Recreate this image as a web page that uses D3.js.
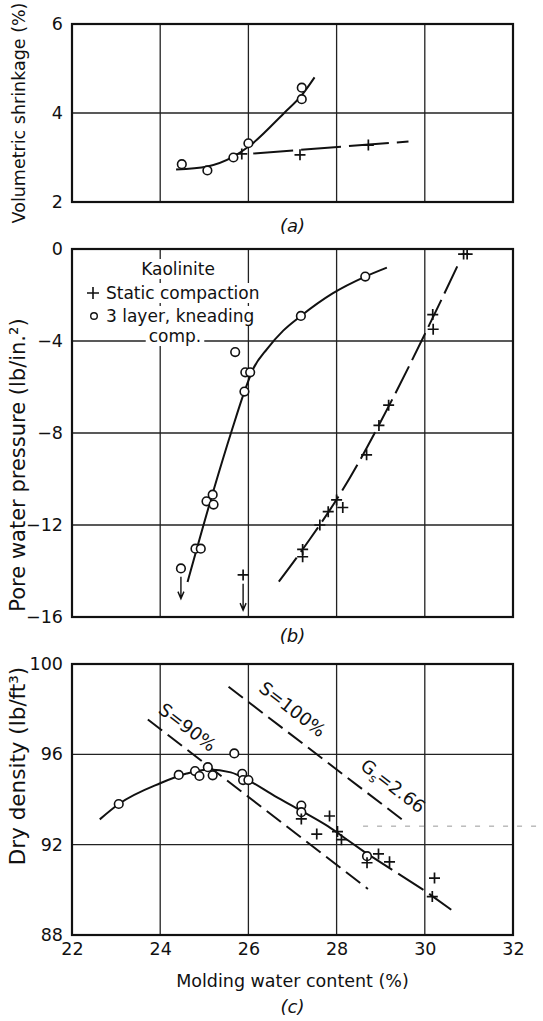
<!DOCTYPE html>
<html><head><meta charset="utf-8">
<script src="https://cdn.jsdelivr.net/npm/d3@7"></script>
<style>
body{margin:0;background:#fff}
svg{display:block}
text{font-family:"DejaVu Sans","Liberation Sans",sans-serif;fill:#111}
</style></head>
<body><svg id="chart" width="543" height="1021"></svg>
<script>
// ---------- data ----------
const xTicks = [22, 24, 26, 28, 30, 32];
const shrinkTicks = [2, 4, 6];
const pwpTicks = [-16, -12, -8, -4, 0];
const densTicks = [88, 92, 96, 100];

// (a) volumetric shrinkage
const aKneadW = [24.49, 25.07, 25.66, 26.0, 27.21, 27.21];
const aKneadV = [2.85, 2.71, 3.0, 3.32, 4.57, 4.31];
const aStaticW = [25.85, 27.17, 28.72];
const aStaticV = [3.08, 3.06, 3.28];
const aKneadCurveW = [24.36, 25.07, 25.66, 26.0, 26.8, 27.21, 27.5];
const aKneadCurveV = [2.73, 2.80, 3.02, 3.24, 3.99, 4.40, 4.80];
const aStaticLineW = [26.11, 29.63];
const aStaticLineV = [3.09, 3.36];

// (b) pore water pressure
const bKneadW = [28.65, 27.19, 25.70, 25.93, 26.04, 25.91, 25.19, 25.05, 25.21, 24.80, 24.92, 24.47];
const bKneadV = [-1.2, -2.91, -4.48, -5.36, -5.36, -6.20, -10.68, -10.97, -11.11, -13.03, -13.03, -13.89];
const bStaticW = [30.88, 30.96, 30.18, 30.19, 29.18, 28.96, 28.68, 28.0, 28.14, 27.81, 27.62, 27.23, 27.23, 25.88];
const bStaticV = [-0.22, -0.22, -2.85, -3.49, -6.79, -7.67, -8.95, -10.91, -11.24, -11.42, -12.0, -13.06, -13.38, -14.17];
const bKneadCurveW = [24.62, 25.21, 25.63, 25.91, 26.1, 26.43, 26.79, 27.19, 27.91, 28.65, 29.14];
const bKneadCurveV = [-14.48, -10.49, -7.85, -6.2, -5.25, -4.33, -3.55, -2.91, -1.93, -1.2, -0.81];
const bStaticLineW = [26.69, 27.4, 28.09, 29.3, 29.98, 30.8];
const bStaticLineV = [-14.46, -12.6, -10.62, -6.4, -3.78, -0.5];
// arrows (below-range readings): start value, end value
const bArrowW = [24.47, 25.88];
const bArrowFrom = [-14.25, -14.55];
const bArrowTo = [-15.2, -15.7];

// (c) dry density
const cKneadW = [23.06, 24.42, 24.79, 24.89, 25.08, 25.19, 25.68, 25.86, 25.88, 26.0, 27.2, 27.2, 28.69];
const cKneadV = [93.80, 95.09, 95.26, 95.04, 95.43, 95.07, 96.04, 95.14, 94.86, 94.86, 93.73, 93.44, 91.49];
const cStaticW = [27.2, 27.84, 27.55, 28.02, 28.11, 28.69, 28.95, 29.2, 30.22, 30.17];
const cStaticV = [93.14, 93.27, 92.47, 92.58, 92.22, 91.2, 91.59, 91.24, 90.52, 89.7];
const cCurveW = [22.63, 23.06, 24.0, 24.6, 25.1, 25.6, 26.0, 26.6, 27.2, 27.8, 28.24, 28.69];
const cCurveV = [93.12, 93.80, 94.72, 95.15, 95.33, 95.2, 94.85, 94.15, 93.5, 92.82, 92.22, 91.6];
const cCurveDashW = [28.69, 30.0, 30.6];
const cCurveDashV = [91.6, 89.96, 89.12];
const s90W = [23.72, 28.71];
const s90V = [97.54, 90.04];
const s100W = [25.55, 29.56];
const s100V = [98.99, 93.0];
// faint scan rule on the right of panel (c)
const scanRuleW = [28.6, 32.68];
const scanRuleV = [92.82, 92.82];

// ---------- layout ----------
const svg = d3.select("#chart");
const X0 = 72, X1 = 513;
const x = d3.scaleLinear().domain([22, 32]).range([X0, X1]);
const yA = d3.scaleLinear().domain([2, 6]).range([202, 24]);
const yB = d3.scaleLinear().domain([-16, 0]).range([617, 249]);
const yC = d3.scaleLinear().domain([88, 100]).range([935, 664]);

const zip = (a, b) => a.map((d, i) => [d, b[i]]);

function panel(y, ticks) {
  const g = svg.append("g");
  const [lo, hi] = y.domain();
  g.selectAll(".vg").data(xTicks.slice(1, -1)).join("line")
    .attr("x1", d => x(d)).attr("x2", d => x(d))
    .attr("y1", y(lo)).attr("y2", y(hi))
    .attr("stroke", "#222").attr("stroke-width", 1.3);
  g.selectAll(".hg").data(ticks.slice(1, -1)).join("line")
    .attr("y1", d => y(d)).attr("y2", d => y(d))
    .attr("x1", X0).attr("x2", X1)
    .attr("stroke", "#222").attr("stroke-width", 1.3);
  const ax = d3.axisLeft(y).tickValues(ticks).tickSize(0).tickPadding(9)
    .tickFormat(d3.format("d"));
  const ag = svg.append("g").attr("transform", `translate(${X0},0)`).call(ax);
  ag.select(".domain").remove();
  ag.selectAll("text").attr("font-size", 17.5).attr("font-family", "DejaVu Sans").attr("fill", "#111");
  return g;
}
function frame(y) {
  const [lo, hi] = y.domain();
  svg.append("rect").attr("x", X0).attr("y", y(hi))
    .attr("width", X1 - X0).attr("height", y(lo) - y(hi))
    .attr("fill", "none").attr("stroke", "#111").attr("stroke-width", 2.2);
}
function curve(y, W, V, dash, curveType, color, sw) {
  svg.append("path").datum(zip(W, V))
    .attr("d", d3.line().x(d => x(d[0])).y(d => y(d[1])).curve(curveType || d3.curveMonotoneX))
    .attr("fill", "none").attr("stroke", color || "#111").attr("stroke-width", sw || 2)
    .attr("stroke-dasharray", dash || null);
}
function circles(y, W, V) {
  svg.append("g").selectAll("circle").data(zip(W, V)).join("circle")
    .attr("cx", d => x(d[0])).attr("cy", d => y(d[1])).attr("r", 4.3)
    .attr("fill", "#fff").attr("stroke", "#111").attr("stroke-width", 1.6);
}
function pluses(y, W, V) {
  svg.append("g").selectAll("path").data(zip(W, V)).join("path")
    .attr("transform", d => `translate(${x(d[0])},${y(d[1])})`)
    .attr("d", "M-5.5,0H5.5M0,-5.5V5.5")
    .attr("stroke", "#111").attr("stroke-width", 1.7).attr("fill", "none");
}
function caption(txt, ypx) {
  svg.append("text").attr("x", (X0 + X1) / 2).attr("y", ypx).attr("text-anchor", "middle")
    .attr("font-family", "Liberation Serif").attr("font-style", "italic").attr("font-size", 18)
    .text(txt);
}
function ylabel(txt, cy, size) {
  svg.append("text").attr("transform", `translate(25,${cy}) rotate(-90)`)
    .attr("text-anchor", "middle").attr("font-size", size).text(txt);
}

// ---------- panel (a) ----------
panel(yA, shrinkTicks);
curve(yA, aKneadCurveW, aKneadCurveV);
curve(yA, aStaticLineW, aStaticLineV, "40,8", d3.curveLinear);
circles(yA, aKneadW, aKneadV);
pluses(yA, aStaticW, aStaticV);
frame(yA);
ylabel("Volumetric shrinkage (%)", 113, 17.5);
caption("(a)", 232);

// ---------- panel (b) ----------
panel(yB, pwpTicks);
const leg = svg.append("g");
const legItems = [
  {t: "Kaolinite", x: 178, y: 275, anchor: "middle"},
  {t: "Static compaction", x: 106, y: 299, anchor: "start"},
  {t: "3 layer, kneading", x: 106, y: 322, anchor: "start"},
  {t: "comp.", x: 175, y: 342, anchor: "middle"}
];
legItems.forEach(it => {
  const t = leg.append("text").attr("x", it.x).attr("y", it.y).attr("text-anchor", it.anchor)
    .attr("font-size", 17).text(it.t);
  const bb = t.node().getBBox();
  leg.insert("rect", "text").attr("x", bb.x - 3).attr("y", bb.y)
    .attr("width", bb.width + 6).attr("height", bb.height).attr("fill", "#fff");
});
leg.append("rect").attr("x", 85).attr("y", 286).attr("width", 18).attr("height", 36).attr("fill", "#fff");
leg.append("path").attr("d", "M87,293H99M93,287V299").attr("stroke", "#111").attr("stroke-width", 1.6);
leg.append("circle").attr("cx", 94).attr("cy", 316).attr("r", 3.3).attr("fill", "#fff").attr("stroke", "#111").attr("stroke-width", 1.4);

curve(yB, bKneadCurveW, bKneadCurveV);
curve(yB, bStaticLineW, bStaticLineV, "30,7");
bArrowW.forEach((w, i) => {
  const xx = x(w), y0 = yB(bArrowFrom[i]), y1 = yB(bArrowTo[i]);
  svg.append("path").attr("d", `M${xx},${y0}V${y1}M${xx - 3},${y1 - 7}L${xx},${y1}L${xx + 3},${y1 - 7}`)
    .attr("fill", "none").attr("stroke", "#111").attr("stroke-width", 1.4);
});
circles(yB, bKneadW, bKneadV);
pluses(yB, bStaticW, bStaticV);
frame(yB);
ylabel("Pore water pressure (lb/in.²)", 465, 21);
caption("(b)", 642);

// ---------- panel (c) ----------
panel(yC, densTicks);
curve(yC, scanRuleW, scanRuleV, "5,9", d3.curveLinear, "#999", 1);
curve(yC, s90W, s90V, "18,7", d3.curveLinear);
curve(yC, s100W, s100V, "18,7", d3.curveLinear);
curve(yC, cCurveW, cCurveV);
curve(yC, cCurveDashW, cCurveDashV, "30,7", d3.curveLinear);
circles(yC, cKneadW, cKneadV);
pluses(yC, cStaticW, cStaticV);
frame(yC);
const ang = Math.atan2(yC(s90V[1]) - yC(s90V[0]), x(s90W[1]) - x(s90W[0])) * 180 / Math.PI;
function annot(w, v, build) {
  const t = svg.append("text")
    .attr("transform", `translate(${x(w)},${yC(v)}) rotate(${ang})`)
    .attr("text-anchor", "middle").attr("dy", "0.35em").attr("font-size", 18);
  build(t);
}
annot(24.62, 97.2, t => t.text("S=90%"));
annot(27.0, 98.0, t => t.text("S=100%"));
annot(29.28, 94.6, t => {
  t.append("tspan").text("G");
  t.append("tspan").attr("font-size", 12).attr("dy", "4").text("s");
  t.append("tspan").attr("dy", "-4").text("=2.66");
});
const xa = svg.append("g").attr("transform", `translate(0,${yC(88)})`)
  .call(d3.axisBottom(x).tickValues(xTicks).tickSize(0).tickPadding(8).tickFormat(d3.format("d")));
xa.select(".domain").remove();
xa.selectAll("text").attr("font-size", 17.5).attr("font-family", "DejaVu Sans").attr("fill", "#111");
svg.append("text").attr("x", (X0 + X1) / 2).attr("y", 987).attr("text-anchor", "middle")
  .attr("font-size", 17.5).text("Molding water content (%)");
ylabel("Dry density (lb/ft³)", 766, 21.5);
caption("(c)", 1013);
</script>
</body></html>
